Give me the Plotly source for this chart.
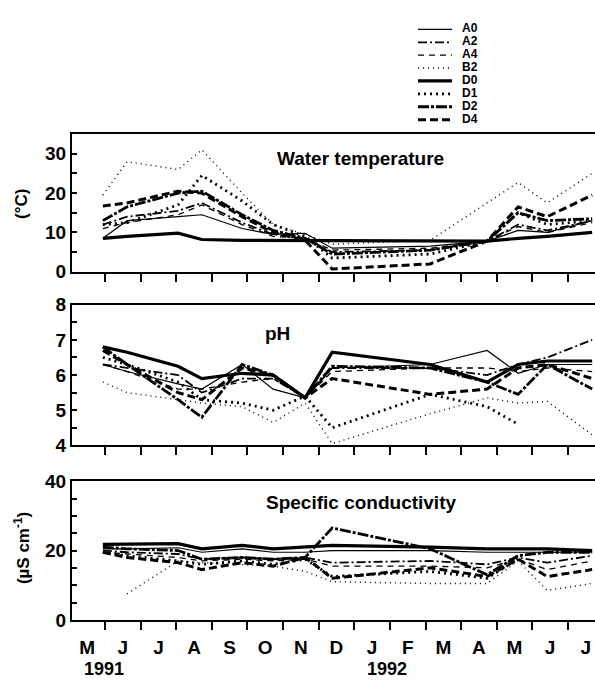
import plotly.graph_objects as go

# sample dates, in months after 1 June 1991
months = [-0.06, 0.62, 2.05, 2.72, 3.85, 4.72, 5.62, 6.38, 9.13, 10.73, 11.6, 12.42, 13.68]

series = ["A0", "A2", "A4", "B2", "D0", "D1", "D2", "D4"]

temperature = {
    "A0": [8.5, 13, 14, 14.5, 11, 9.5, 9.8, 6, 6.5, 7.8, 10.5, 10, 13],
    "A2": [12, 14, 15.5, 17.5, 12.5, 9.5, 8.5, 5, 5.5, 7.8, 12, 10.5, 13],
    "A4": [11, 12.5, 14.5, 17, 12, 9, 8.5, 5.5, 6, 7.8, 11.5, 10, 12.5],
    "B2": [19.5, 28, 26, 31, 20, 12, 9.5, 7, 8, None, 22.7, 17.5, 25],
    "D0": [8.5, 9, 9.8, 8.2, 8, 8, 8, 7.8, 7.8, 7.8, 8.5, 9, 10],
    "D1": [12, 12.5, 17, 24.5, 18, 12, 9, 3.5, 4.5, 7.8, 15, 12, 13],
    "D2": [13, 16.5, 20, 20.5, 14.5, 10.5, 8.5, 4.5, 5.5, 7.8, 15, 13, 13.5],
    "D4": [16.7, 17.5, 20.5, 20, 14, 10, 8, 0.7, 2, 7.8, 16.5, 14, 19.5],
}

ph = {
    "A0": [6.3, 6.1, 5.75, 5.6, 6.3, 5.6, 5.35, 6.2, 6.3, 6.7, 6.05, 6.3, 6.3],
    "A2": [6.3, 6.2, 6.0, 5.5, 5.9, 5.9, 5.35, 6.2, 6.2, 6.0, 6.3, 6.5, 7.0],
    "A4": [6.3, 6.1, 5.6, 5.6, 5.8, 5.9, 5.35, 6.1, 6.2, 6.2, 6.1, 6.2, 6.1],
    "B2": [5.8, 5.5, 5.3, 5.2, 5.1, 4.65, 5.2, 4.05, 4.9, 5.35, 5.2, 5.25, 4.3],
    "D0": [6.8, 6.65, 6.25, 5.9, 6.05, 6.0, 5.35, 6.65, 6.3, 5.8, 6.3, 6.4, 6.4],
    "D1": [6.5, 6.3, 5.8, 5.3, 5.2, 5.0, 5.4, 4.5, 5.45, 5.1, 4.6, None, None],
    "D2": [6.8, 6.3, 5.3, 4.8, 6.3, 6.0, 5.35, 6.25, 6.2, 5.8, 5.45, 6.3, 5.6],
    "D4": [6.7, 6.3, 5.5, 5.3, 6.2, 6.0, 5.35, 5.9, 5.45, 5.6, 6.2, 6.3, 5.9],
}

conductivity = {
    "A0": [20.5, 20.5, 20.8, 19.5, 20.5, 19.5, 19.5, 20, 20, 19.5, 19.5, 19.5, 19.5],
    "A2": [20, 19.5, 19, 17.5, 18, 17.5, 18, 16.5, 17, 16, 18, 16.5, 18.5],
    "A4": [19.5, 19, 18, 17, 17.5, 17, 17.5, 15.5, 15.5, 15, 17.5, 14.5, 17],
    "B2": [None, 7.5, 17, 16.5, 16, 15.5, 14, 11, 10.5, 10.5, 17, 8.5, 10.5],
    "D0": [21.8, 21.8, 22, 20.5, 21.5, 20.5, 21, 21.5, 21, 20.5, 20.5, 20.5, 20],
    "D1": [19.5, 18.5, 17, 16, 17, 16, 17.5, 12.5, 14, 12, 17.5, None, None],
    "D2": [21, 20.5, 20, 17.5, 18, 17.5, 18, 26.5, 20.5, 13, 18.5, 19.5, 19.5],
    "D4": [19.5, 18, 16.5, 14.5, 16.5, 15.5, 18, 12, 15, 12.5, 17.5, 12.5, 14.5],
}

month_labels = ["M", "J", "J", "A", "S", "O", "N", "D", "J", "F", "M", "A", "M", "J", "J"]
month_centres = [i - 0.5 for i in range(len(month_labels))]
month_bounds = list(range(0, 14))

styles = {
    "A0": dict(width=1.2, dash="solid"),
    "A2": dict(width=1.8, dash="9px,3px,2px,3px"),
    "A4": dict(width=1.3, dash="6px,5px"),
    "B2": dict(width=1.4, dash="1px,4px"),
    "D0": dict(width=3.2, dash="solid"),
    "D1": dict(width=2.8, dash="2px,4px"),
    "D2": dict(width=2.8, dash="11px,2px,3px,2px"),
    "D4": dict(width=3.0, dash="8px,4px"),
}

FONT = "Liberation Sans"
W, H = 595, 690

fig = go.Figure()

panels = [(temperature, "x", "y"), (ph, "x2", "y2"), (conductivity, "x3", "y3")]
for data, xa, ya in panels:
    for s in series:
        fig.add_trace(go.Scatter(
            x=months, y=data[s], xaxis=xa, yaxis=ya, mode="lines",
            line=dict(color="black", **styles[s]), connectgaps=True,
            showlegend=False, name=s))

# legend drawn in its own small axes
for i, s in enumerate(series):
    fig.add_trace(go.Scatter(
        x=[0, 3.4], y=[i, i], xaxis="x4", yaxis="y4", mode="lines",
        line=dict(color="black", **styles[s]), showlegend=False, hoverinfo="skip"))
fig.add_trace(go.Scatter(
    x=[4.4] * len(series), y=list(range(len(series))), xaxis="x4", yaxis="y4",
    mode="text", text=series, textposition="middle right",
    textfont=dict(family=FONT, size=12, color="black", weight="bold"),
    showlegend=False, hoverinfo="skip"))

def py(p):
    return 1 - p / H

xdom = [72 / W, 1.0]
common_x = dict(
    domain=xdom, range=[-0.927, 13.76], showline=True, linecolor="black",
    linewidth=2, mirror=True, showgrid=False, zeroline=False,
    tickmode="array", tickvals=month_centres, ticktext=month_labels,
    ticks="", ticklen=0, ticklabelstandoff=9,
    minor=dict(tickmode="array", tickvals=month_bounds, ticks="outside",
               ticklen=8, tickwidth=1.5, tickcolor="black", showgrid=False),
    tickfont=dict(family=FONT, size=19, color="black", weight="bold"),
)
common_y = dict(
    showline=True, linecolor="black", linewidth=2, showgrid=False,
    zeroline=False, ticks="inside", ticklen=5, tickwidth=1.5, tickcolor="black",
    tickfont=dict(family=FONT, size=19, color="black", weight="bold"),
)

fig.update_layout(
    width=W, height=H, margin=dict(l=0, r=0, t=0, b=0),
    paper_bgcolor="white", plot_bgcolor="white",
    font=dict(family=FONT, color="black"),
    xaxis=dict(**common_x, anchor="y", showticklabels=False),
    xaxis2=dict(**common_x, anchor="y2", showticklabels=False),
    xaxis3=dict(**common_x, anchor="y3", showticklabels=True),
    yaxis=dict(**common_y, anchor="x", domain=[py(270), py(128)], range=[0, 35],
               tickmode="array", tickvals=[0, 10, 20, 30],
               minor=dict(tickmode="array", tickvals=[5, 15, 25], ticks="inside",
                          ticklen=5, tickwidth=1.5, tickcolor="black")),
    yaxis2=dict(**common_y, anchor="x2", domain=[py(449), py(304)], range=[4, 8],
                tickmode="array", tickvals=[4, 5, 6, 7, 8],
                minor=dict(tickmode="array", tickvals=[4.5, 5.5, 6.5, 7.5], ticks="inside",
                           ticklen=5, tickwidth=1.5, tickcolor="black")),
    yaxis3=dict(**common_y, anchor="x3", domain=[py(629), py(486)], range=[0, 40],
                tickmode="array", tickvals=[0, 20, 40],
                minor=dict(tickmode="array", tickvals=[5, 10, 15, 25, 30, 35], ticks="inside",
                           ticklen=5, tickwidth=1.5, tickcolor="black")),
    xaxis4=dict(domain=[418 / W, 518 / W], range=[0, 10], visible=False, anchor="y4"),
    yaxis4=dict(domain=[py(119.75), py(13.35)], range=[7.5, -0.5], visible=False, anchor="x4"),
)

ann_font = dict(family=FONT, size=19, color="black", weight="bold")
annotations = [
    dict(text="Water temperature", x=360 / W, y=py(153), font=ann_font),
    dict(text="pH", x=277 / W, y=py(334), font=ann_font),
    dict(text="Specific conductivity", x=361 / W, y=py(508), font=ann_font),
    dict(text="1991", x=104 / W, y=py(680), font=dict(ann_font, size=18)),
    dict(text="1992", x=387 / W, y=py(680), font=dict(ann_font, size=18)),
    dict(text="(°C)", x=22 / W, y=py(200), textangle=-90, font=dict(ann_font, size=17)),
    dict(text="(µS cm<sup>-1</sup>)", x=22 / W, y=py(555), textangle=-90,
         font=dict(ann_font, size=17)),
]
for a in annotations:
    fig.add_annotation(xref="paper", yref="paper", showarrow=False,
                       xanchor="center", yanchor="middle", **a)

fig.write_html("out.html")
